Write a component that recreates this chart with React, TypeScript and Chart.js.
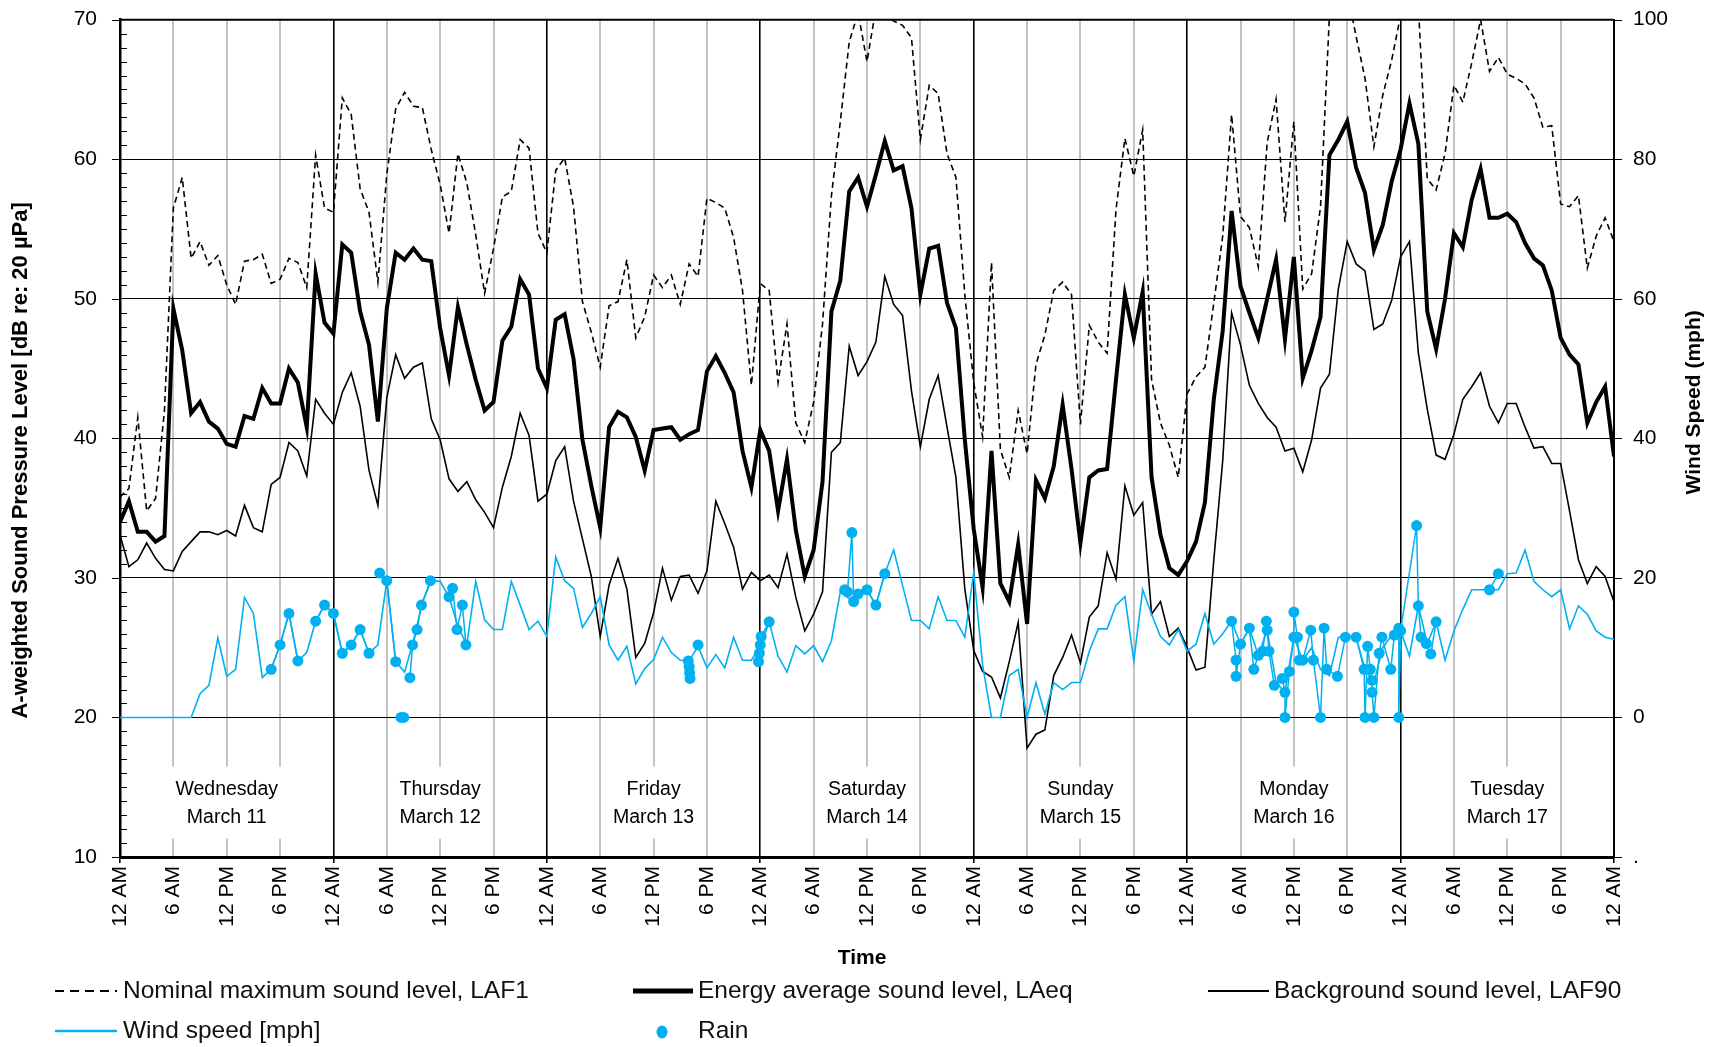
import React, { useEffect, useRef } from "react";
import { Chart, registerables } from "chart.js";

Chart.register(...registerables);

const FONT = "'Liberation Sans', Arial, Helvetica, sans-serif";
const BLUE = "#00B0F0";

// ---- labels ----
const dayNames = ["Wednesday", "Thursday", "Friday", "Saturday", "Sunday", "Monday", "Tuesday"];
const dayDates = ["March 11", "March 12", "March 13", "March 14", "March 15", "March 16", "March 17"];
const clockLabels = ["12 AM", "6 AM", "12 PM", "6 PM"];
const leftTitle = "A-weighted Sound Pressure Level [dB re: 20 \u00b5Pa]";
const rightTitle = "Wind Speed (mph)";
const xTitle = "Time";
const legendNames = [
  "Nominal maximum sound level, LAF1",
  "Energy average sound level, LAeq",
  "Background sound level, LAF90",
  "Wind speed [mph]",
  "Rain",
];

// ---- hourly series, hour 0 = 12 AM Wed March 11 ... hour 168 = 12 AM Wed March 18 ----
const laf1 = [
  35.8, 36.4, 41.5, 34.8, 35.7, 42.0, 56.5, 58.7, 52.9, 54.1, 52.4, 53.1, 51.0, 49.6, 52.7, 52.8, 53.2, 51.1, 51.4, 52.9, 52.6, 50.8, 60.3, 56.5, 56.2,
  64.4, 63.2, 57.9, 56.2, 51.2, 58.9, 63.6, 64.8, 63.8, 63.7, 60.7, 58.2, 54.7, 60.4, 58.3, 54.6, 50.4, 53.6, 57.3, 57.7, 61.4, 60.8, 54.7, 53.3,
  59.2, 60.1, 56.6, 49.8, 47.6, 45.1, 49.5, 49.8, 52.8, 47.2, 48.7, 51.7, 50.8, 51.7, 49.6, 52.5, 51.6, 57.2, 56.9, 56.5, 54.4, 50.6, 43.8, 51.1,
  50.6, 44.0, 48.2, 41.1, 39.7, 42.6, 48.2, 57.4, 62.7, 68.4, 70.5, 67.0, 70.8, 70.4, 69.9, 69.6, 68.7, 61.4, 65.3, 64.7, 60.4, 58.7, 50.3, 44.0,
  40.1, 52.6, 39.2, 37.2, 42.0, 38.9, 45.3, 47.4, 50.6, 51.2, 50.3, 41.0, 48.1, 46.9, 46.1, 56.4, 61.5, 58.8, 62.1, 44.2, 41.1, 39.5, 37.2, 43.2,
  44.4, 45.1, 49.7, 54.5, 63.2, 55.9, 55.1, 52.3, 61.2, 64.3, 55.5, 62.7, 50.7, 51.8, 56.6, 70.3, 72.5, 72.0, 68.8, 65.8, 60.9, 64.6, 67.1, 70.3,
  73.0, 71.0, 58.6, 57.8, 60.4, 65.3, 64.1, 66.9, 70.0, 66.3, 67.3, 66.1, 65.8, 65.4, 64.4, 62.3, 62.4, 56.8, 56.6, 57.4, 52.2, 54.5, 55.8, 54.1,
];

const laeq = [
  34.0, 35.5, 33.3, 33.3, 32.6, 33.0, 49.3, 46.3, 41.8, 42.6, 41.2, 40.7, 39.6, 39.4, 41.6, 41.4, 43.6, 42.5, 42.5, 45.0, 44.0, 40.8, 51.8, 48.3, 47.5,
  53.9, 53.3, 49.1, 46.7, 41.2, 49.3, 53.3, 52.8, 53.6, 52.8, 52.7, 47.9, 44.5, 49.4, 46.7, 44.2, 42.0, 42.6, 47.0, 48.0, 51.4, 50.3, 45.0, 43.6,
  48.5, 48.9, 45.7, 39.9, 36.6, 33.6, 40.8, 41.9, 41.5, 40.1, 37.7, 40.6, 40.7, 40.8, 39.9, 40.3, 40.6, 44.8, 45.9, 44.7, 43.3, 39.1, 36.5, 40.6,
  39.1, 34.8, 38.5, 33.4, 30.1, 32.0, 36.9, 49.1, 51.3, 57.7, 58.7, 56.6, 58.9, 61.3, 59.2, 59.5, 56.5, 50.3, 53.6, 53.8, 49.7, 47.9, 39.9, 33.5,
  29.3, 39.1, 29.6, 28.3, 32.4, 26.7, 37.0, 35.7, 38.0, 42.4, 37.8, 32.5, 37.2, 37.7, 37.8, 44.2, 50.3, 47.2, 50.5, 37.2, 33.1, 30.7, 30.2, 31.2,
  32.6, 35.4, 42.8, 47.7, 56.3, 50.9, 49.0, 47.2, 50.0, 52.8, 47.1, 53.0, 44.3, 46.3, 48.7, 60.3, 61.4, 62.7, 59.4, 57.6, 53.5, 55.3, 58.4, 60.7,
  64.0, 61.1, 49.1, 46.4, 50.0, 54.7, 53.7, 57.1, 59.3, 55.8, 55.8, 56.1, 55.5, 54.0, 52.9, 52.4, 50.6, 47.2, 46.0, 45.3, 41.1, 42.6, 43.7, 38.7,
];

const laf90 = [
  33.1, 30.8, 31.3, 32.5, 31.4, 30.6, 30.5, 31.9, 32.6, 33.3, 33.3, 33.1, 33.4, 33.0, 35.2, 33.6, 33.3, 36.7, 37.2, 39.7, 39.1, 37.3, 42.8, 41.8, 41.0,
  43.3, 44.7, 42.3, 37.7, 35.2, 42.9, 46.0, 44.3, 45.1, 45.4, 41.4, 39.9, 37.1, 36.2, 36.9, 35.6, 34.7, 33.6, 36.5, 38.7, 41.8, 40.2, 35.5, 36.0,
  38.4, 39.4, 35.5, 32.8, 30.1, 25.8, 29.5, 31.4, 29.2, 24.3, 25.3, 27.5, 30.7, 28.4, 30.1, 30.2, 28.9, 30.5, 35.5, 33.9, 32.2, 29.2, 30.4, 29.8,
  30.2, 29.3, 31.7, 28.6, 26.2, 27.4, 29.0, 39.0, 39.7, 46.6, 44.5, 45.5, 46.9, 51.6, 49.6, 48.8, 43.4, 39.4, 42.8, 44.5, 40.8, 37.2, 29.2, 24.8,
  23.3, 22.9, 21.4, 24.0, 26.8, 17.8, 18.8, 19.1, 23.0, 24.3, 25.9, 23.9, 27.2, 28.0, 31.8, 29.9, 36.6, 34.5, 35.4, 27.4, 28.3, 25.8, 26.4, 25.0,
  23.4, 23.6, 31.3, 38.4, 49.0, 46.7, 43.8, 42.5, 41.5, 40.8, 39.1, 39.3, 37.6, 39.9, 43.6, 44.6, 50.7, 54.1, 52.5, 52.0, 47.8, 48.2, 49.9, 53.0,
  54.1, 46.1, 42.1, 38.8, 38.5, 40.3, 42.8, 43.7, 44.7, 42.3, 41.1, 42.5, 42.5, 40.8, 39.3, 39.4, 38.2, 38.2, 34.8, 31.3, 29.6, 30.8, 30.1, 28.3,
];

const windMph = [
  0, 0, 0, 0, 0, 0, 0, 0, 0, 3.4, 4.6, 11.4, 5.9, 6.9, 17.2, 14.9, 5.7, 6.9, 10.4, 14.9, 8.1, 9.3, 13.8, 16.1, 14.9,
  9.2, 10.4, 12.6, 9.2, 10.4, 19.6, 8.0, 6.5, 11.0, 16.5, 19.6, 19.5, 17.3, 13.0, 10.4, 19.5, 14.0, 12.6, 12.6, 19.5, 16.1, 12.6, 13.8, 11.6,
  23.0, 19.6, 18.5, 12.9, 14.9, 17.3, 10.4, 8.2, 10.2, 4.8, 7.0, 8.3, 11.5, 9.3, 8.2, 8.1, 10.2, 7.1, 9.0, 7.1, 11.5, 8.2, 8.2, 10.2,
  13.7, 8.8, 6.5, 10.3, 9.1, 10.3, 8.0, 11.0, 18.0, 17.0, 17.7, 18.3, 16.1, 20.6, 24.0, 18.9, 13.9, 13.9, 12.7, 17.3, 13.9, 13.9, 11.5, 20.8,
  7.5, 0, 0, 6.0, 6.9, 0, 5.0, 0.5, 5.0, 4.0, 5.0, 5.0, 9.5, 12.7, 12.7, 16.1, 17.3, 8.1, 18.3, 14.8, 11.6, 10.4, 12.6, 9.5,
  10.5, 14.9, 10.5, 12.0, 13.8, 10.5, 12.8, 8.9, 12.5, 5.0, 3.6, 11.5, 8.2, 10.0, 6.9, 6.0, 11.5, 11.5, 11.5, 6.9, 5.0, 10.0, 11.8, 12.4,
  8.8, 16.0, 10.6, 13.7, 8.2, 12.4, 15.5, 18.3, 18.3, 18.3, 18.3, 20.6, 20.7, 24.0, 19.5, 18.3, 17.3, 18.3, 12.7, 16.0, 14.8, 12.4, 11.5, 11.2,
];

// ---- rain readings (hour, wind speed in mph); null separates rain episodes ----
const rainHour: (number | null)[] = [
  17, 18, 19, 20, null,
  22, 23, 24, 25, 26, 27, 28, null,
  29.2, 30, 31, null,
  31.6, 31.9, null,
  32.6, 32.9, 33.4, 33.9, 34.9, null,
  37, 37.4, 37.9, 38.5, 38.9, null,
  63.9, 64, 64.05, 64.1, null,
  65, null,
  71.8, 71.9, 72, 72.1, 73, null,
  81.5, 81.8, 82.3, 82.5, 83, 84, 85, 86, null,
  125, 125.5, 125.5, 126, 127, 127.5, 128, 128.5, 128.9, 129, 129.2, 129.8, 130.7, 131, 131, 131.5,
  132, 132, 132.4, 132.6, 133, 133.9, 134.2, 135, 135.4, 135.7, 136.9, 137.8, 139, 139.9, 140,
  140.3, 140.6, 140.8, 140.8, 141, 141.6, 141.9, 142.9, 143.3, 143.8, 143.8,
  144, 145.8, 146, 146.3, 146.9, 147.4, 148, null,
  154, 155,
];
const rainMph: (number | null)[] = [
  6.9, 10.4, 14.9, 8.1, null,
  13.8, 16.1, 14.9, 9.2, 10.4, 12.6, 9.2, null,
  20.7, 19.6, 8.0, null,
  0, 0, null,
  5.7, 10.4, 12.6, 16.1, 19.6, null,
  17.3, 18.5, 12.6, 16.1, 10.4, null,
  8.1, 7.3, 6.4, 5.6, null,
  10.4, null,
  8.0, 9.2, 10.4, 11.6, 13.7, null,
  18.3, 18.0, 26.5, 16.6, 17.7, 18.3, 16.1, 20.6, null,
  13.8, 8.2, 5.9, 10.5, 12.8, 6.9, 8.9, 9.5, 13.8, 12.5, 9.5, 4.6, 5.6, 3.6, 0, 6.6,
  11.5, 15.1, 11.5, 8.2, 8.2, 12.5, 8.2, 0, 12.8, 6.9, 5.9, 11.5, 11.5, 6.9, 0,
  10.2, 6.9, 5.3, 3.6, 0, 9.2, 11.5, 6.9, 11.8, 12.8, 0,
  12.4, 27.5, 16.0, 11.5, 10.6, 9.1, 13.7, null,
  18.3, 20.6,
];

const toPoints = (arr: number[]) => arr.map((y, i) => ({ x: i, y }));

const decorPlugin = {
  id: "decor",
  beforeDatasetsDraw(chart: any) {
    const { ctx, chartArea: a, scales } = chart;
    const xs = scales.x;
    const ys = scales.y;
    const ys2 = scales.y2;
    ctx.save();
    ctx.strokeStyle = "#000";
    ctx.lineWidth = 1;
    // inner minor ticks on the left axis
    for (let v = 11; v < 70; v++) {
      if (v % 10 === 0) continue;
      const y = Math.round(ys.getPixelForValue(v)) + 0.5;
      ctx.beginPath();
      ctx.moveTo(a.left, y);
      ctx.lineTo(a.left + 7, y);
      ctx.stroke();
    }
    // outer major ticks, left and right
    ys.ticks.forEach((t: any) => {
      const y = Math.round(ys.getPixelForValue(t.value)) + 0.5;
      ctx.beginPath();
      ctx.moveTo(a.left - 8, y);
      ctx.lineTo(a.left, y);
      ctx.stroke();
    });
    ys2.ticks.forEach((t: any) => {
      const y = Math.round(ys2.getPixelForValue(t.value)) + 0.5;
      ctx.beginPath();
      ctx.moveTo(a.right, y);
      ctx.lineTo(a.right + 8, y);
      ctx.stroke();
    });
    // day labels at noon
    ctx.font = `19.5px ${FONT}`;
    ctx.textAlign = "center";
    ctx.textBaseline = "middle";
    const yc = ys.getPixelForValue(13.9);
    dayNames.forEach((name, d) => {
      const x = xs.getPixelForValue(d * 24 + 12);
      const w = Math.max(ctx.measureText(name).width, ctx.measureText(dayDates[d]).width) + 10;
      ctx.fillStyle = "#fff";
      ctx.fillRect(x - w / 2, yc - 36, w, 72);
      ctx.fillStyle = "#000";
      ctx.fillText(name, x, yc - 13);
      ctx.fillText(dayDates[d], x, yc + 15);
    });
    ctx.restore();
  },
  afterDraw(chart: any) {
    const { ctx, chartArea: a } = chart;
    ctx.save();
    // top frame line
    ctx.strokeStyle = "#000";
    ctx.lineWidth = 2;
    ctx.beginPath();
    ctx.moveTo(a.left, a.top);
    ctx.lineTo(a.right, a.top);
    ctx.stroke();

    // axis titles
    ctx.fillStyle = "#000";
    ctx.textAlign = "center";
    ctx.textBaseline = "middle";
    ctx.font = `bold 22px ${FONT}`;
    ctx.save();
    ctx.translate(21, (a.top + a.bottom) / 2 + 22);
    ctx.rotate(-Math.PI / 2);
    ctx.fillText(leftTitle, 0, 0);
    ctx.restore();
    ctx.font = `bold 21px ${FONT}`;
    ctx.save();
    ctx.translate(1694, (a.top + a.bottom) / 2 - 36);
    ctx.rotate(-Math.PI / 2);
    ctx.fillText(rightTitle, 0, 0);
    ctx.restore();
    ctx.fillText(xTitle, (a.left + a.right) / 2 - 5, 958);

    // legend
    const row1 = 991;
    const row2 = 1031;
    const drawLine = (x1: number, x2: number, y: number, w: number, color: string, dash: number[]) => {
      ctx.save();
      ctx.strokeStyle = color;
      ctx.lineWidth = w;
      ctx.setLineDash(dash);
      ctx.beginPath();
      ctx.moveTo(x1, y);
      ctx.lineTo(x2, y);
      ctx.stroke();
      ctx.restore();
    };
    drawLine(55, 117, row1, 2, "#000", [9, 6]);
    drawLine(633, 693, row1, 5, "#000", []);
    drawLine(1208, 1269, row1, 2, "#000", []);
    drawLine(55, 117, row2, 2.5, BLUE, []);
    ctx.fillStyle = BLUE;
    ctx.beginPath();
    ctx.ellipse(662, row2 + 1, 5.5, 6.5, 0, 0, Math.PI * 2);
    ctx.fill();

    ctx.fillStyle = "#111";
    ctx.font = `24.5px ${FONT}`;
    ctx.textAlign = "left";
    ctx.textBaseline = "middle";
    ctx.fillText(legendNames[0], 123, row1);
    ctx.fillText(legendNames[1], 698, row1);
    ctx.fillText(legendNames[2], 1274, row1);
    ctx.fillText(legendNames[3], 123, row2);
    ctx.fillText(legendNames[4], 698, row2);
    ctx.restore();
  },
};

export default function App() {
  const canvasRef = useRef<HTMLCanvasElement | null>(null);

  useEffect(() => {
    const canvas = canvasRef.current;
    if (!canvas) return;
    const rainPoints = rainHour.map((h, i) => {
      let x = h;
      if (x === null) {
        let j = i - 1;
        while (j >= 0 && rainHour[j] === null) j--;
        x = j >= 0 ? (rainHour[j] as number) : 0;
      }
      return { x, y: rainMph[i] };
    });

    const chart = new Chart(canvas, {
      type: "line",
      data: {
        datasets: [
          {
            label: legendNames[4],
            data: rainPoints as any,
            yAxisID: "y2",
            borderColor: BLUE,
            borderWidth: 1.5,
            backgroundColor: BLUE,
            pointBackgroundColor: BLUE,
            pointBorderWidth: 0,
            pointRadius: 5.5,
            showLine: true,
            spanGaps: false,
          },
          {
            label: legendNames[3],
            data: toPoints(windMph),
            yAxisID: "y2",
            borderColor: BLUE,
            borderWidth: 1.6,
            pointRadius: 0,
          },
          {
            label: legendNames[1],
            data: toPoints(laeq),
            yAxisID: "y",
            borderColor: "#000",
            borderWidth: 4,
            pointRadius: 0,
          },
          {
            label: legendNames[2],
            data: toPoints(laf90),
            yAxisID: "y",
            borderColor: "#000",
            borderWidth: 1.6,
            pointRadius: 0,
          },
          {
            label: legendNames[0],
            data: toPoints(laf1),
            yAxisID: "y",
            borderColor: "#000",
            borderWidth: 1.6,
            borderDash: [6, 4],
            pointRadius: 0,
          },
        ],
      },
      options: {
        responsive: false,
        animation: false,
        devicePixelRatio: 1,
        events: [],
        layout: { padding: { top: 19.7, left: 0, right: 0, bottom: 0 } },
        plugins: {
          legend: { display: false },
          tooltip: { enabled: false },
          title: { display: false },
        },
        elements: { line: { tension: 0 } },
        scales: {
          x: {
            type: "linear",
            min: 0,
            max: 168,
            afterFit: (s: any) => {
              s.height = 190;
            },
            border: { display: true, color: "#000", width: 3 },
            grid: {
              color: (c: any) => (c.tick && c.tick.value % 24 === 0 ? "#000" : "#c4c4c4"),
              lineWidth: (c: any) => (c.tick && c.tick.value % 24 === 0 ? 1.6 : 2),
              tickColor: (c: any) => (c.tick && c.tick.value % 24 === 0 ? "#000" : "rgba(0,0,0,0)"),
              tickLength: 6,
              drawTicks: true,
            },
            ticks: {
              stepSize: 6,
              autoSkip: false,
              maxRotation: 90,
              minRotation: 90,
              padding: 3,
              color: "#000",
              font: { family: FONT, size: 21 },
              callback: (v: any) => clockLabels[Math.round(Number(v) / 6) % 4],
            },
          },
          y: {
            position: "left",
            min: 10,
            max: 70,
            afterFit: (s: any) => {
              s.width = 120;
            },
            border: { display: true, color: "#000", width: 2.5 },
            grid: { color: "#000", lineWidth: 1, tickLength: 23, tickColor: "rgba(0,0,0,0)", drawTicks: true },
            ticks: {
              stepSize: 10,
              padding: 0,
              color: "#000",
              font: { family: FONT, size: 21 },
            },
          },
          y2: {
            position: "right",
            min: -20,
            max: 100,
            afterFit: (s: any) => {
              s.width = 105;
            },
            border: { display: true, color: "#000", width: 2 },
            grid: { drawOnChartArea: false, tickLength: 19, tickColor: "rgba(0,0,0,0)", color: "#000", drawTicks: true },
            ticks: {
              stepSize: 20,
              padding: 0,
              color: "#000",
              font: { family: FONT, size: 21 },
              callback: (v: any) => (Number(v) < 0 ? "." : String(v)),
            },
          },
        },
      },
      plugins: [decorPlugin],
    } as any);

    return () => chart.destroy();
  }, []);

  return (
    <div style={{ position: "absolute", left: 0, top: 0, width: 1719, height: 1047, background: "#fff" }}>
      <canvas ref={canvasRef} width={1719} height={1047} style={{ display: "block", width: 1719, height: 1047 }} />
    </div>
  );
}
